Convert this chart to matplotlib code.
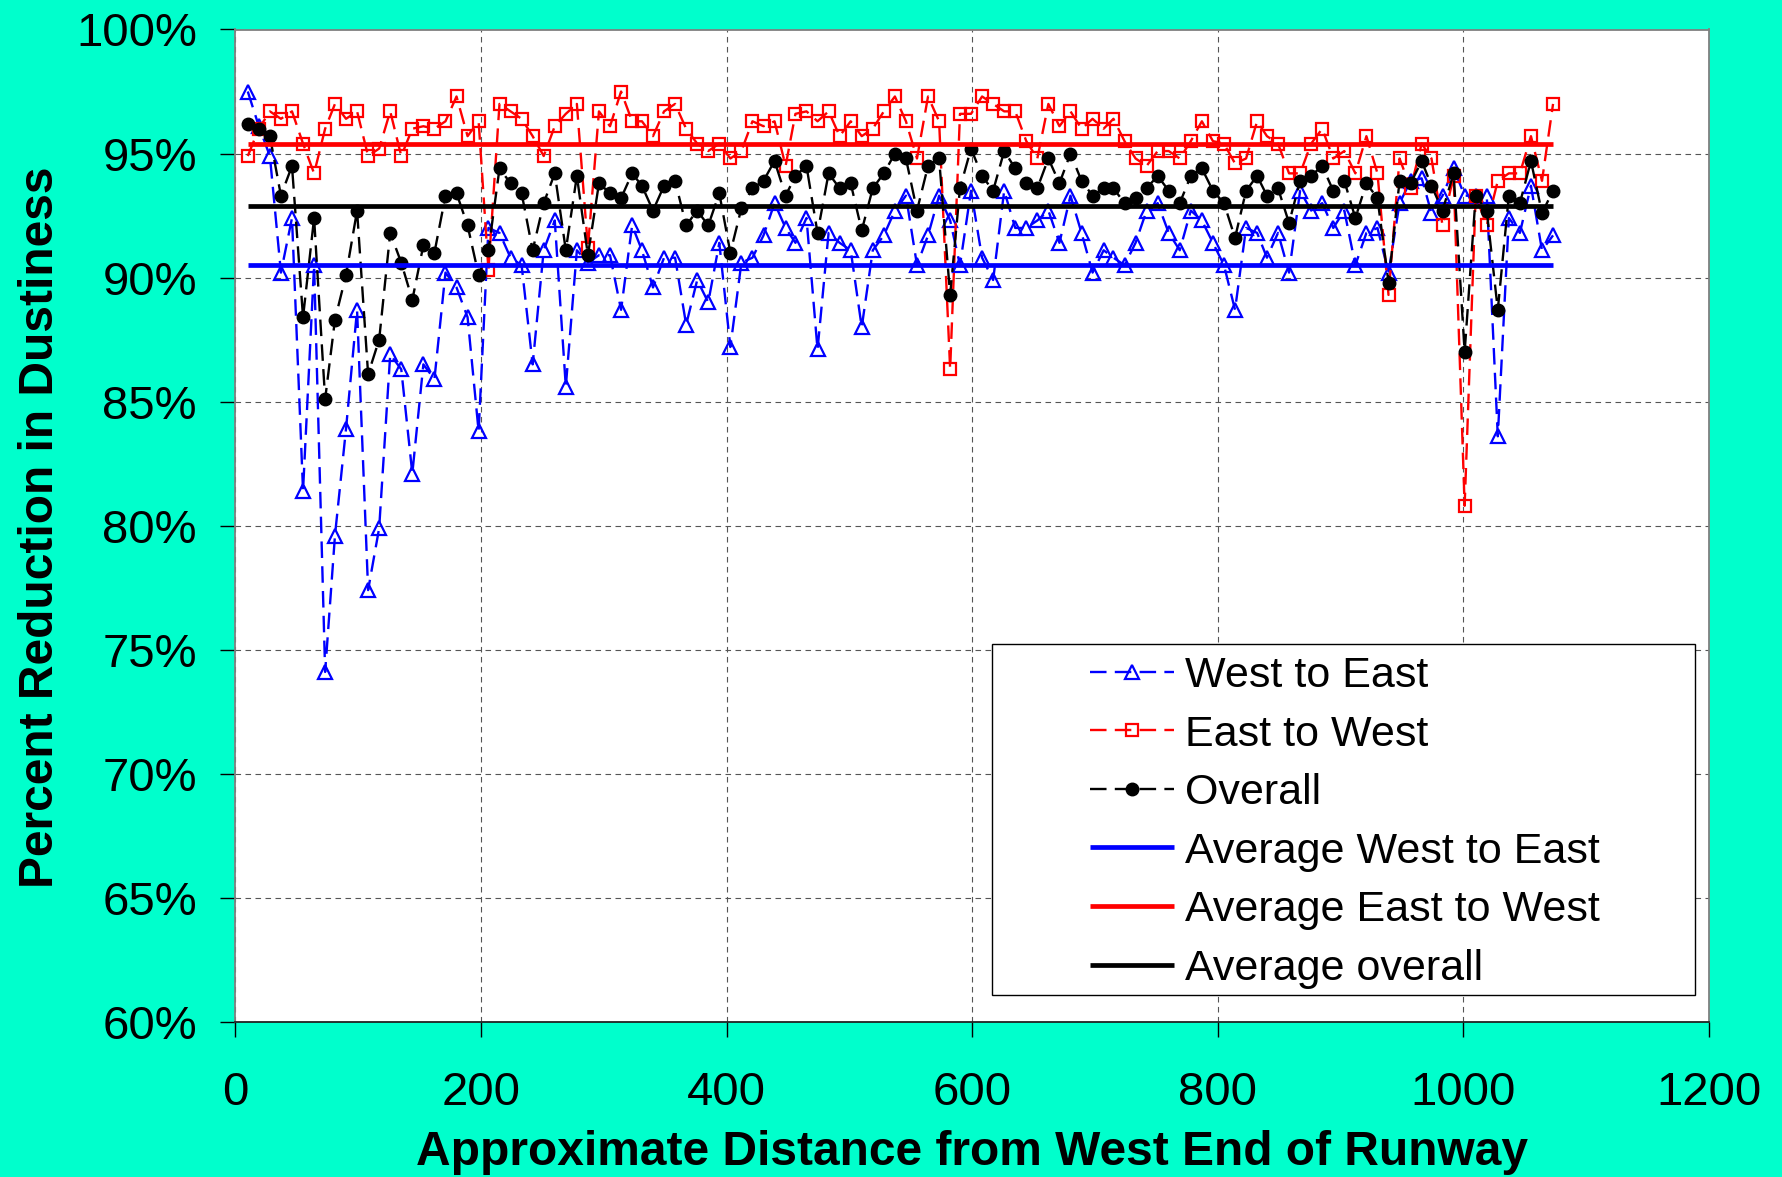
import matplotlib
matplotlib.use('Agg')
import matplotlib.pyplot as plt
from matplotlib.patches import Rectangle

plt.rcParams['font.family'] = ['Liberation Sans', 'DejaVu Sans']

# approximate distance from west end of runway (ft)
distance = [10, 19, 28, 37, 46, 55, 64, 73, 81, 90,
            99, 108, 117, 126, 135, 144, 153, 162, 171, 180,
            189, 198, 206, 215, 224, 233, 242, 251, 260, 269,
            278, 287, 296, 305, 314, 323, 331, 340, 349, 358,
            367, 376, 385, 394, 403, 412, 421, 430, 439, 448,
            456, 465, 474, 483, 492, 501, 510, 519, 528, 537,
            546, 555, 564, 573, 582, 590, 599, 608, 617, 626,
            635, 644, 653, 662, 671, 680, 689, 698, 707, 715,
            724, 733, 742, 751, 760, 769, 778, 787, 796, 805,
            814, 823, 832, 840, 849, 858, 867, 876, 885, 894,
            903, 912, 921, 930, 939, 948, 957, 966, 974, 983,
            992, 1001, 1010, 1019, 1028, 1037, 1046, 1055, 1064, 1073]

west_to_east = [97.5, 96.1, 94.9, 90.2, 92.4, 81.4, 90.5, 74.1, 79.6, 83.9,
                88.7, 77.4, 79.9, 86.9, 86.3, 82.1, 86.5, 85.9, 90.2, 89.6,
                88.4, 83.8, 92.0, 91.8, 90.8, 90.5, 86.5, 91.1, 92.3, 85.6,
                91.1, 90.6, 90.9, 90.9, 88.7, 92.1, 91.1, 89.6, 90.8, 90.8,
                88.1, 89.9, 89.0, 91.4, 87.2, 90.6, 90.8, 91.7, 93.0, 92.0,
                91.4, 92.4, 87.1, 91.8, 91.4, 91.1, 88.0, 91.1, 91.7, 92.7,
                93.3, 90.5, 91.7, 93.3, 92.3, 90.5, 93.5, 90.8, 89.9, 93.5,
                92.0, 92.0, 92.3, 92.7, 91.4, 93.3, 91.8, 90.2, 91.1, 90.8,
                90.5, 91.4, 92.7, 93.0, 91.8, 91.1, 92.7, 92.3, 91.4, 90.5,
                88.7, 92.0, 91.8, 90.8, 91.8, 90.2, 93.5, 92.7, 93.0, 92.0,
                92.7, 90.5, 91.8, 92.0, 90.2, 93.0, 93.9, 94.0, 92.6, 93.3,
                94.4, 93.3, 93.3, 93.3, 83.6, 92.4, 91.8, 93.7, 91.1, 91.7]

east_to_west = [94.9, 96.0, 96.7, 96.4, 96.7, 95.4, 94.2, 96.0, 97.0, 96.4,
                96.7, 94.9, 95.2, 96.7, 94.9, 96.0, 96.1, 96.0, 96.3, 97.3,
                95.7, 96.3, 90.3, 97.0, 96.7, 96.4, 95.7, 94.9, 96.1, 96.6,
                97.0, 91.2, 96.7, 96.1, 97.5, 96.3, 96.3, 95.7, 96.7, 97.0,
                96.0, 95.4, 95.1, 95.4, 94.8, 95.1, 96.3, 96.1, 96.3, 94.5,
                96.6, 96.7, 96.3, 96.7, 95.7, 96.3, 95.7, 96.0, 96.7, 97.3,
                96.3, 94.8, 97.3, 96.3, 86.3, 96.6, 96.6, 97.3, 97.0, 96.7,
                96.7, 95.5, 94.8, 97.0, 96.1, 96.7, 96.0, 96.4, 96.0, 96.4,
                95.5, 94.8, 94.5, 95.1, 95.1, 94.8, 95.5, 96.3, 95.5, 95.4,
                94.6, 94.8, 96.3, 95.7, 95.4, 94.2, 94.2, 95.4, 96.0, 94.8,
                95.1, 94.2, 95.7, 94.2, 89.3, 94.8, 93.6, 95.4, 94.8, 92.1,
                94.1, 80.8, 93.3, 92.1, 93.9, 94.2, 94.2, 95.7, 93.9, 97.0]

overall = [96.2, 96.0, 95.7, 93.3, 94.5, 88.4, 92.4, 85.1, 88.3, 90.1,
           92.7, 86.1, 87.5, 91.8, 90.6, 89.1, 91.3, 91.0, 93.3, 93.4,
           92.1, 90.1, 91.1, 94.4, 93.8, 93.4, 91.1, 93.0, 94.2, 91.1,
           94.1, 90.9, 93.8, 93.4, 93.2, 94.2, 93.7, 92.7, 93.7, 93.9,
           92.1, 92.7, 92.1, 93.4, 91.0, 92.8, 93.6, 93.9, 94.7, 93.3,
           94.1, 94.5, 91.8, 94.2, 93.6, 93.8, 91.9, 93.6, 94.2, 95.0,
           94.8, 92.7, 94.5, 94.8, 89.3, 93.6, 95.2, 94.1, 93.5, 95.1,
           94.4, 93.8, 93.6, 94.8, 93.8, 95.0, 93.9, 93.3, 93.6, 93.6,
           93.0, 93.2, 93.6, 94.1, 93.5, 93.0, 94.1, 94.4, 93.5, 93.0,
           91.6, 93.5, 94.1, 93.3, 93.6, 92.2, 93.9, 94.1, 94.5, 93.5,
           93.9, 92.4, 93.8, 93.2, 89.8, 93.9, 93.8, 94.7, 93.7, 92.7,
           94.2, 87.0, 93.3, 92.7, 88.7, 93.3, 93.0, 94.7, 92.6, 93.5]

avg_west_to_east = 90.5
avg_east_to_west = 95.4
avg_overall = 92.9

x_ticks = [0, 200, 400, 600, 800, 1000, 1200]
y_ticks = [60, 65, 70, 75, 80, 85, 90, 95, 100]

W, H = 1783, 1177
fig = plt.figure(figsize=(W / 100, H / 100), dpi=100, facecolor='#00FFCC')
ax = fig.add_axes([235.5 / W, 1 - 1021.7 / H, (1709 - 235.5) / W, (1021.7 - 29.5) / H])
ax.set_facecolor('white')

dash = (7, 3.5)
ax.plot(distance, west_to_east, color='#0000FF', lw=1.7, dashes=dash,
        marker='^', ms=10, mfc='none', mec='#0000FF', mew=1.6, label='West to East')
ax.plot(distance, east_to_west, color='#FF0000', lw=1.7, dashes=dash,
        marker='s', ms=8, mfc='none', mec='#FF0000', mew=1.6, label='East to West')
ax.plot(distance, overall, color='black', lw=1.7, dashes=dash,
        marker='o', ms=9, mfc='black', mec='black', label='Overall')
ends = [distance[0], distance[-1]]
ax.plot(ends, [avg_west_to_east] * 2, color='#0000FF', lw=3.4,
        solid_capstyle='butt', label='Average West to East')
ax.plot(ends, [avg_east_to_west] * 2, color='#FF0000', lw=3.4,
        solid_capstyle='butt', label='Average East to West')
ax.plot(ends, [avg_overall] * 2, color='black', lw=3.4,
        solid_capstyle='butt', label='Average overall')

ax.set_xlim(0, 1200)
ax.set_ylim(60, 100)
ax.set_xticks(x_ticks)
ax.set_yticks(y_ticks)
ax.set_yticklabels([f'{v}%' for v in y_ticks])
ax.grid(True, color='#555555', lw=0.8, linestyle=(0, (5, 4)))
ax.set_axisbelow(True)
ax.tick_params(direction='out', length=10.8, width=1, colors='black', labelsize=34)
ax.tick_params(axis='x', pad=25)
ax.tick_params(axis='y', pad=17)

for side in ['left', 'top', 'right']:
    ax.spines[side].set_color('#808080')
    ax.spines[side].set_linewidth(1.3)
ax.spines['bottom'].set_color('#222222')
ax.spines['bottom'].set_linewidth(1.3)

fig.text(972 / W, 1 - 1165 / H, 'Approximate Distance from West End of Runway',
         ha='center', va='baseline', fontsize=34.5, fontweight='bold')
fig.text(52.7 / W, 1 - 527.6 / H, 'Percent Reduction in Dustiness',
         ha='center', va='baseline', rotation=90, rotation_mode='anchor',
         fontsize=34.5, fontweight='bold')

# legend box drawn separately so the padding matches
box = Rectangle((992 / W, 1 - 995 / H), (1695.5 - 992) / W, (995 - 643.5) / H,
                transform=fig.transFigure, facecolor='white', edgecolor='black',
                lw=1, zorder=5.5, clip_on=False)
ax.add_artist(box)
leg = ax.legend(loc='upper left', bbox_to_anchor=(1090 / W, 1 - 656 / H),
                bbox_transform=fig.transFigure, frameon=False, fontsize=31,
                handlelength=1.95, handletextpad=0.25, labelspacing=0.43,
                borderpad=0, borderaxespad=0, numpoints=1)
leg.set_zorder(6)

fig.savefig('out.png', dpi=100, facecolor=fig.get_facecolor())
